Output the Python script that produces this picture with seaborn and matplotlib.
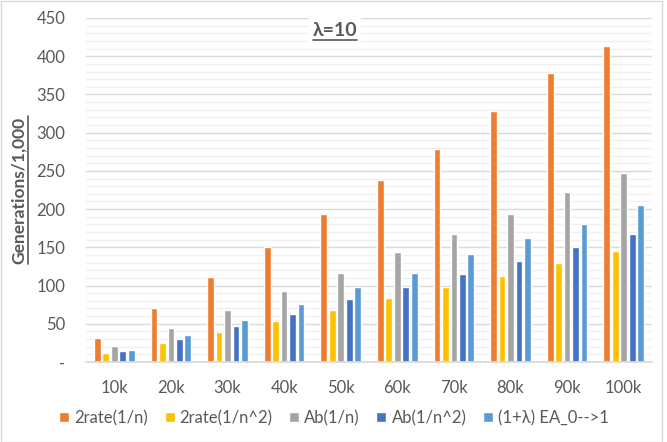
import numpy as np
import pandas as pd
import matplotlib
matplotlib.use("Agg")
import matplotlib.pyplot as plt
import seaborn as sns
from matplotlib.lines import Line2D
from matplotlib.patches import Rectangle
from matplotlib.ticker import MultipleLocator, FuncFormatter

# problem sizes (x categories)
sizes = ["10k", "20k", "30k", "40k", "50k", "60k", "70k", "80k", "90k", "100k"]

# generations / 1,000 per algorithm
rate2_n = [31, 70, 111, 151, 193, 238, 279, 328, 378, 413]
rate2_n2 = [12, 25, 39, 53, 68, 84, 98, 112, 129, 145]
ab_n = [21, 44, 68, 93, 116, 144, 168, 193, 222, 247]
ab_n2 = [15, 30, 47, 63, 82, 98, 115, 132, 151, 167]
ea_01 = [16, 35, 55, 76, 98, 116, 141, 162, 181, 205]

series_names = ["2rate(1/n)", "2rate(1/n^2)", "Ab(1/n)", "Ab(1/n^2)", "(1+λ) EA_0-->1"]
colors = ["#ED7D31", "#FFC000", "#A5A5A5", "#4472C4", "#5B9BD5"]

TXT = "#595959"

# long-form table for seaborn
rows = []
for name, vals in zip(series_names, [rate2_n, rate2_n2, ab_n, ab_n2, ea_01]):
    for s, v in zip(sizes, vals):
        rows.append({"size": s, "value": v, "series": name})
df = pd.DataFrame(rows)

sns.set_theme(style="white")
plt.rcParams['font.family'] = ['Lato', 'DejaVu Sans']

fig = plt.figure(figsize=(6.67, 4.42), dpi=100)
ax = fig.add_axes([86 / 667, 1 - 362 / 442, 566 / 667, 344 / 442])

sns.barplot(data=df, x="size", y="value", hue="series", palette=colors,
            saturation=1, width=0.75, gap=0.2, ax=ax, order=sizes,
            hue_order=series_names)

# axes styling
ax.set_ylim(0, 450)
ax.set_xlim(-0.5, len(sizes) - 0.5)
ax.yaxis.set_major_locator(MultipleLocator(50))
ax.yaxis.set_minor_locator(MultipleLocator(10))
ax.yaxis.set_major_formatter(FuncFormatter(lambda v, p: "-" if v == 0 else f"{int(v)}"))
ax.grid(axis="y", which="major", color="#d9d9d9", linewidth=1)
ax.grid(axis="y", which="minor", color="#f0f0f0", linewidth=1)
ax.set_axisbelow(True)
for side in ["left", "top", "right"]:
    ax.spines[side].set_visible(False)
ax.spines["bottom"].set_color("#d9d9d9")
ax.tick_params(axis="y", which="both", length=0, pad=15, labelsize=12, labelcolor=TXT)
ax.tick_params(axis="x", length=0, pad=13, labelsize=12, labelcolor=TXT)
ax.set_xlabel("")
ax.set_ylabel("")

# legend below the plot
handles, labels = ax.get_legend_handles_labels()
ax.get_legend().remove()
fig.legend(handles, labels, loc="center", bbox_to_anchor=(334 / 667, 1 - 418 / 442),
           ncol=5, frameon=False, handlelength=0.6, handleheight=0.6,
           handletextpad=0.3, columnspacing=1.0, fontsize=12, labelcolor=TXT)

# title and y label
title = ax.text((335 - 86) / 566, (362 - 30) / 344, "λ=10", ha="center", va="center",
                fontsize=14, fontweight="bold", color=TXT, transform=ax.transAxes,
                bbox=dict(facecolor="white", edgecolor="none", pad=3))
ylab = fig.text(19 / 667, 1 - 190 / 442, "Generations/1,000", rotation=90,
                ha="center", va="center", fontsize=12.5, fontweight="bold", color=TXT)

# chart border
fig.patches.append(Rectangle((0.5 / 667, 0.5 / 442), 661 / 667, 441 / 442,
                             transform=fig.transFigure, fill=False,
                             edgecolor="#d9d9d9", linewidth=1))

# underline title and y label
fig.canvas.draw()
r = fig.canvas.get_renderer()
W, H = fig.bbox.width, fig.bbox.height
bb = title.get_window_extent(r)
fig.add_artist(Line2D([bb.x0 / W, bb.x1 / W], [(bb.y0 - 1) / H] * 2,
                      transform=fig.transFigure, color=TXT, linewidth=1.2))
bb = ylab.get_window_extent(r)
fig.add_artist(Line2D([(bb.x1 + 1) / W] * 2, [bb.y0 / H, bb.y1 / H],
                      transform=fig.transFigure, color=TXT, linewidth=1.2))

fig.savefig("out.png", dpi=100)
